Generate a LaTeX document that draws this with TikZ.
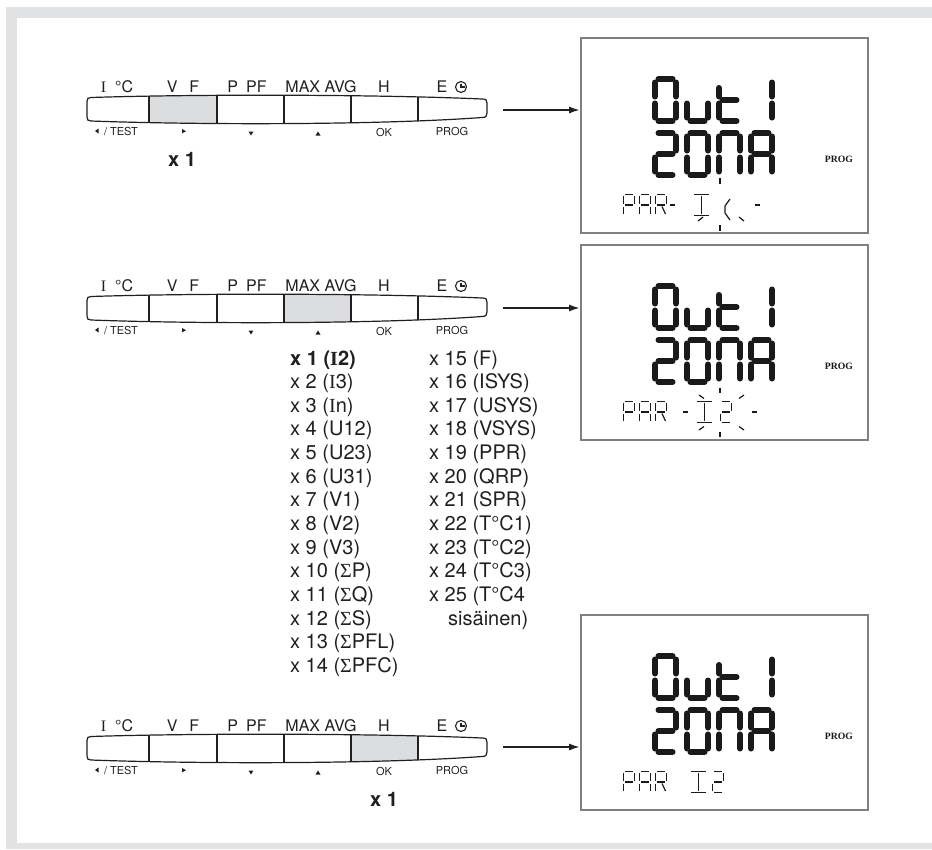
\documentclass[tikz,border=0pt]{standalone}
\usepackage{fontspec}
\setmainfont{TeX Gyre Heros}
\newfontfamily\seriffam{Liberation Serif}
\usetikzlibrary{arrows.meta}
\definecolor{ink}{HTML}{231F20}
\definecolor{framegray}{HTML}{E1E2E3}
\definecolor{keyhi}{HTML}{DCDDDE}
\definecolor{lcdline}{HTML}{808080}
\definecolor{lcdink}{HTML}{1A1A1A}

% big segment centre lines (cell 27 x 48)
\def\bsa{(6.5,3) -- (20.5,3)}
\def\bsb{(24,6.5) -- (24,20.5)}
\def\bsc{(24,27.5) -- (24,41.5)}
\def\bsd{(6.5,45) -- (20.5,45)}
\def\bse{(3,27.5) -- (3,41.5)}
\def\bsf{(3,6.5) -- (3,20.5)}
\def\bsg{(6.5,24) -- (20.5,24)}
\def\bsF{(3,12) -- (3,20.5)}
% small segment centre lines (cell 12 x 22)
\def\ssa{(2,0.5) -- (10,0.5)}
\def\ssb{(11.5,2) -- (11.5,9.5)}
\def\ssc{(11.5,12.5) -- (11.5,20)}
\def\ssd{(2,21.5) -- (10,21.5)}
\def\sse{(0.5,12.5) -- (0.5,20)}
\def\ssf{(0.5,2) -- (0.5,9.5)}
\def\ssg{(2,11) -- (10,11)}
\def\ssk{(7,12.5) -- (10.5,20)}

\tikzset{
 kline/.style={draw=ink, line width=1.2pt},
 toplab/.style={anchor=base, inner sep=0pt, text=ink, font=\fontsize{16}{18}\selectfont},
 botlab/.style={anchor=base, inner sep=0pt, text=ink, font=\fontsize{11}{13}\selectfont},
 xlab/.style={anchor=base west, inner sep=0pt, text=ink, font=\fontsize{20}{23}\selectfont},
 lcdbox/.style={draw=lcdline, line width=1.6pt, minimum width=287pt, minimum height=195pt, inner sep=0pt, fill=white},
 flowarrow/.style={draw=ink, line width=2pt, -{Latex[length=11pt,width=7pt]}},
 bigseg/.style={draw=lcdink, line width=6pt, line cap=round},
 smallseg/.style={draw=lcdink, line width=1.2pt},
 tick/.style={draw=lcdink, line width=1.2pt},
 proglab/.style={inner sep=0pt, text=lcdink, font=\seriffam\bfseries\fontsize{9.7}{11}\selectfont},
 bigch/.pic={\foreach \s in {#1}{\draw[bigseg] \csname bs\s\endcsname;}},
 smallch/.pic={\foreach \s in {#1}{\draw[smallseg] \csname ss\s\endcsname;}},
}

\newcommand\kpath[1]{(91,#1-11.5) .. controls (200,#1-15) and (380,#1-14.5) .. (482,#1-10) .. controls (486,#1-10) and (487,#1-9) .. (487,#1-6) -- (487,#1+4) .. controls (487,#1+7) and (486,#1+8.5) .. (482,#1+8.5) .. controls (380,#1+16) and (200,#1+16) .. (91,#1+12) .. controls (88,#1+12) and (87,#1+11) .. (87,#1+8) -- (87,#1-7.5) .. controls (87,#1-10.5) and (88,#1-11.5) .. (91,#1-11.5) -- cycle}

\newcommand\keypad[4]{%
 \begin{scope}
  \clip \kpath{#2};
  \fill[keyhi] (#3,#2-20) rectangle (#4,#2+20);
  \foreach \sx in {149,217,284,351,418} {\draw[kline] (\sx,#2-20) -- (\sx,#2+20);}
 \end{scope}
 \draw[kline] \kpath{#2};
 \node[toplab] (#1t1) at (117,#2-17) {{\seriffam I}\hspace{9pt}°C};
 \node[toplab] (#1t2) at (183,#2-17) {V\hspace{12pt}F};
 \node[toplab] (#1t3) at (247,#2-17) {P\hspace{8pt}PF};
 \node[toplab] (#1t4) at (321,#2-17) {MAX AVG};
 \node[toplab] (#1t5) at (384,#2-17) {H};
 \node[toplab] (#1t6) at (442,#2-17) {E};
 \draw[ink, line width=1.1pt] (461,#2-22) circle (5.5);
 \draw[ink, line width=1.1pt] (461,#2-25.5) -- (461,#2-22) -- (464.5,#2-22);
 \fill[ink] (95,#2+22) -- (98.5,#2+19.5) -- (98.5,#2+24.5) -- cycle;
 \node[botlab] (#1b1) at (121,#2+26) {/ TEST};
 \fill[ink] (182,#2+20) -- (186,#2+22.2) -- (182,#2+24.4) -- cycle;
 \fill[ink] (248.5,#2+22.5) -- (253.5,#2+22.5) -- (251,#2+26.5) -- cycle;
 \fill[ink] (315.5,#2+26.5) -- (320.5,#2+26.5) -- (318,#2+22.5) -- cycle;
 \node[botlab] (#1b5) at (384,#2+27) {OK};
 \node[botlab] (#1b6) at (452,#2+26) {PROG};
}

\newcommand\lcdbig[1]{%
 \pic at (652,#1+38) {bigch={a,b,c,d,e,f}};
 \pic at (684,#1+38) {bigch={c,d,e}};
 \pic at (716,#1+38) {bigch={d,e,F,g}};
 \pic at (748,#1+38) {bigch={b,c}};
 \pic at (652,#1+92) {bigch={a,b,g,e,d}};
 \pic at (684,#1+92) {bigch={a,b,c,d,e,f}};
 \pic at (716,#1+92) {bigch={a,b,c,e,f}};
 \pic at (748,#1+92) {bigch={a,b,c,e,f,g}};
 \pic at (623,#1+156) {smallch={a,b,f,e,g}};
 \pic at (639,#1+156) {smallch={a,b,c,e,f,g}};
 \pic at (655,#1+156) {smallch={a,b,f,e,g,k}};
}

\begin{document}
\begin{tikzpicture}[x=1pt,y=-1pt]
\useasboundingbox (0,0) rectangle (932,849);
\fill[framegray] (6,7) rectangle (932,849);
\fill[white] (17,18) rectangle (932,843);

% keypads
\keypad{ka}{109}{149}{217}
\keypad{kb}{308}{284}{351}
\keypad{kc}{748}{351}{418}

\node[xlab, font=\bfseries\fontsize{20}{23}\selectfont] (xa) at (168,166) {x 1};
\node[xlab, font=\bfseries\fontsize{20}{23}\selectfont] (xc) at (370,806) {x 1};

% list
\node[xlab, font=\bfseries\fontsize{20}{23}\selectfont] (l1) at (290,365) {x 1 ({\seriffam I}2)};
\node[xlab] (l2) at (290,388.65) {x 2 ({\seriffam I}3)};
\node[xlab] (l3) at (290,412.3) {x 3 ({\seriffam I}n)};
\node[xlab] (l4) at (290,435.95) {x 4 (U12)};
\node[xlab] (l5) at (290,459.6) {x 5 (U23)};
\node[xlab] (l6) at (290,483.25) {x 6 (U31)};
\node[xlab] (l7) at (290,506.9) {x 7 (V1)};
\node[xlab] (l8) at (290,530.55) {x 8 (V2)};
\node[xlab] (l9) at (290,554.2) {x 9 (V3)};
\node[xlab] (l10) at (290,577.85) {x 10 ({\seriffam Σ}P)};
\node[xlab] (l11) at (290,601.5) {x 11 ({\seriffam Σ}Q)};
\node[xlab] (l12) at (290,625.15) {x 12 ({\seriffam Σ}S)};
\node[xlab] (l13) at (290,648.8) {x 13 ({\seriffam Σ}PFL)};
\node[xlab] (l14) at (290,672.45) {x 14 ({\seriffam Σ}PFC)};
\node[xlab] (r1) at (429,365) {x 15 (F)};
\node[xlab] (r2) at (429,388.65) {x 16 (ISYS)};
\node[xlab] (r3) at (429,412.3) {x 17 (USYS)};
\node[xlab] (r4) at (429,435.95) {x 18 (VSYS)};
\node[xlab] (r5) at (429,459.6) {x 19 (PPR)};
\node[xlab] (r6) at (429,483.25) {x 20 (QRP)};
\node[xlab] (r7) at (429,506.9) {x 21 (SPR)};
\node[xlab] (r8) at (429,530.55) {x 22 (T°C1)};
\node[xlab] (r9) at (429,554.2) {x 23 (T°C2)};
\node[xlab] (r10) at (429,577.85) {x 24 (T°C3)};
\node[xlab] (r11) at (429,601.5) {x 25 (T°C4};
\node[xlab] (r12) at (448,625.15) {sisäinen)};

% LCD boxes
\node[lcdbox] (lcd1) at (724.5,135.5) {};
\node[lcdbox] (lcd2) at (724.5,342.5) {};
\node[lcdbox] (lcd3) at (724.5,712.5) {};
\node[proglab] (p1) at (839,159) {PROG};
\node[proglab] (p2) at (839,366) {PROG};
\node[proglab] (p3) at (839,736) {PROG};

\lcdbig{38}
\lcdbig{245}
\lcdbig{615}

% LCD1 row 3 rest
\draw[smallseg] (670,205) -- (675,205);
\draw[smallseg] (694,194.5) -- (709,194.5);
\draw[smallseg] (694,215.5) -- (709,215.5);
\draw[smallseg] (701.5,196) -- (701.5,214);
\draw[smallseg] (730,199) -- (725,206) -- (725,213) -- (730,220);
\draw[smallseg] (755,205) -- (760,205);
\draw[tick] (720,178) -- (720,184);
\draw[tick] (720,225) -- (720,231);
\draw[tick] (698,221) -- (703,217);
\draw[tick] (744,221) -- (739,217);

% LCD2 row 3 rest
\draw[smallseg] (683,412) -- (688,412);
\draw[smallseg] (697,401.5) -- (712,401.5);
\draw[smallseg] (697,422.5) -- (712,422.5);
\draw[smallseg] (704.5,403) -- (704.5,421);
\pic at (720,401) {smallch={a,b,g,e,d}};
\draw[smallseg] (752,412) -- (757,412);
\draw[tick] (720,388) -- (720,393);
\draw[tick] (720,432) -- (720,437);
\draw[tick] (699,395) -- (704,398.5);
\draw[tick] (744,395) -- (739,398.5);
\draw[tick] (699,430) -- (704,426.5);
\draw[tick] (744,430) -- (739,426.5);

% LCD3 row 3 rest
\draw[smallseg] (691,771.5) -- (706,771.5);
\draw[smallseg] (691,792.5) -- (706,792.5);
\draw[smallseg] (698.5,773) -- (698.5,791);
\pic at (712,771) {smallch={a,b,g,e,d}};

% arrows
\coordinate (a1) at (503,110);
\coordinate (a2) at (503,308);
\coordinate (a3) at (503,747);
\draw[flowarrow] (a1) -- (lcd1.west |- a1);
\draw[flowarrow] (a2) -- (lcd2.west |- a2);
\draw[flowarrow] (a3) -- (lcd3.west |- a3);
\end{tikzpicture}
\end{document}
